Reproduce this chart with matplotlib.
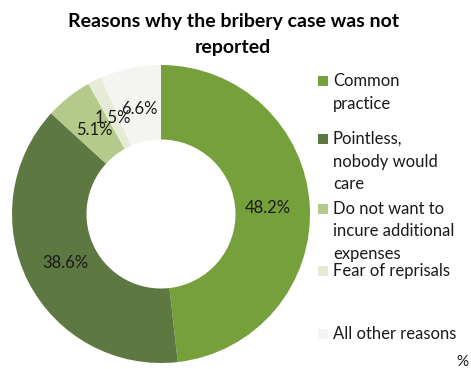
import matplotlib
matplotlib.use("Agg")
import matplotlib.pyplot as plt
from matplotlib.patches import Rectangle

# data
reasons = ["Common\npractice", "Pointless,\nnobody would\ncare",
           "Do not want to\nincure additional\nexpenses", "Fear of reprisals",
           "All other reasons"]
shares = [48.2, 38.6, 5.1, 1.5, 6.6]
colors = ["#76A03B", "#5E7842", "#B4C98A", "#E5EBD5", "#F4F5F0"]
legend_y = [82, 140, 210, 272, 335]  # px from top, first text line

plt.rcParams['font.family'] = ['Lato', 'DejaVu Sans']

W, H = 471, 369
fig = plt.figure(figsize=(W / 100, H / 100), dpi=100)

cx, cy, R = 161, 214, 149
ax = fig.add_axes([(cx - R) / W, (H - cy - R) / H, 2 * R / W, 2 * R / H])
wedges, texts, autotexts = ax.pie(
    shares, colors=colors, startangle=90, counterclock=False,
    radius=1, wedgeprops=dict(width=0.5, linewidth=0),
    autopct=lambda p: f"{p:.1f}%", pctdistance=0.72,
    textprops=dict(fontsize=12, color="#1a1a1a"))
ax.set_xlim(-1, 1)
ax.set_ylim(-1, 1)
ax.set_aspect("equal")
ax.axis("off")

fig.text(0.495, 1 - 22 / H, "Reasons why the bribery case was not",
         ha="center", va="center", fontsize=14, fontweight="bold")
fig.text(0.495, 1 - 48 / H, "reported",
         ha="center", va="center", fontsize=14, fontweight="bold")

for lab, col, y in zip(reasons, colors, legend_y):
    fig.patches.append(Rectangle((318 / W, 1 - (y + 4) / H), 10 / W, 10 / H,
                                 transform=fig.transFigure, facecolor=col,
                                 edgecolor="none"))
    fig.text(333 / W, 1 - (y - 9) / H, lab, ha="left", va="top",
             fontsize=12, linespacing=1.5, color="#1a1a1a")

fig.text(462 / W, 1 - 362 / H, "%", ha="center", va="center", fontsize=11,
         color="#1a1a1a")

fig.savefig("out.png", dpi=100)
